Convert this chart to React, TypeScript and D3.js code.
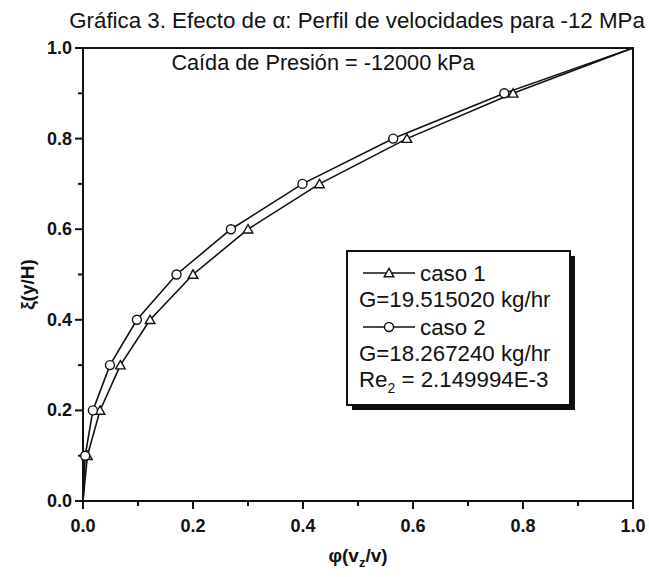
import React from "react";
import * as d3 from "d3";

// Dimensionless height ξ = y/H (shared by both cases)
const xi = [0, 0.1, 0.2, 0.3, 0.4, 0.5, 0.6, 0.7, 0.8, 0.9, 1.0];
// Dimensionless velocity φ = vz/v for each case
const caso1 = [0, 0.008, 0.031, 0.068, 0.122, 0.2, 0.3, 0.43, 0.589, 0.782, 1.0];
const caso2 = [0, 0.004, 0.018, 0.049, 0.098, 0.17, 0.269, 0.399, 0.564, 0.766, 1.0];

const majorTicks = [0, 0.2, 0.4, 0.6, 0.8, 1.0];
const minorTicks = [0.1, 0.3, 0.5, 0.7, 0.9];

const title = "Gráfica 3. Efecto de α: Perfil de velocidades para -12 MPa";
const subtitle = "Caída de Presión = -12000 kPa";
const legendG1 = "G=19.515020 kg/hr";
const legendG2 = "G=18.267240 kg/hr";

const W = 649;
const H = 577;
const m = { left: 83, right: 633, top: 48, bottom: 501 };
const FONT = "'Liberation Sans', Arial, Helvetica, sans-serif";

export default function App() {
  const x = d3.scaleLinear().domain([0, 1]).range([m.left, m.right]);
  const y = d3.scaleLinear().domain([0, 1]).range([m.bottom, m.top]);

  const line = d3
    .line<[number, number]>()
    .x((d) => x(d[0]))
    .y((d) => y(d[1]));

  const pts1: [number, number][] = caso1.map((v, i) => [v, xi[i]]);
  const pts2: [number, number][] = caso2.map((v, i) => [v, xi[i]]);

  const tri = d3.symbol().type(d3.symbolTriangle).size(40)() as string;

  const lx0 = 347, ly0 = 251, lx1 = 570, ly1 = 405;

  return (
    <svg width={W} height={H} style={{ display: "block", position: "absolute", left: 0, top: 0, background: "#fff" }}>
      <rect x={0} y={0} width={W} height={H} fill="#fff" />
      <text x={357} y={28} textAnchor="middle" fontFamily={FONT} fontSize={22.3} fill="#111">
        {title}
      </text>

      {/* frame */}
      <rect x={m.left} y={m.top} width={m.right - m.left} height={m.bottom - m.top} fill="none" stroke="#111" strokeWidth={2} />

      <text x={323} y={70} textAnchor="middle" fontFamily={FONT} fontSize={21.7} fill="#111">
        {subtitle}
      </text>

      {/* x axis ticks */}
      {majorTicks.map((t) => (
        <g key={"xm" + t}>
          <line x1={x(t)} x2={x(t)} y1={m.bottom} y2={m.bottom + 8} stroke="#111" strokeWidth={2} />
          <text x={x(t)} y={m.bottom + 31} textAnchor="middle" fontFamily={FONT} fontWeight="bold" fontSize={18} fill="#111">
            {d3.format(".1f")(t)}
          </text>
        </g>
      ))}
      {minorTicks.map((t) => (
        <line key={"xn" + t} x1={x(t)} x2={x(t)} y1={m.bottom} y2={m.bottom + 5} stroke="#111" strokeWidth={2} />
      ))}

      {/* y axis ticks */}
      {majorTicks.map((t) => (
        <g key={"ym" + t}>
          <line x1={m.left - 8} x2={m.left} y1={y(t)} y2={y(t)} stroke="#111" strokeWidth={2} />
          <text x={m.left - 11} y={y(t) + 6} textAnchor="end" fontFamily={FONT} fontWeight="bold" fontSize={18} fill="#111">
            {d3.format(".1f")(t)}
          </text>
        </g>
      ))}
      {minorTicks.map((t) => (
        <line key={"yn" + t} x1={m.left - 5} x2={m.left} y1={y(t)} y2={y(t)} stroke="#111" strokeWidth={2} />
      ))}

      {/* axis titles */}
      <text x={358} y={562} textAnchor="middle" fontFamily={FONT} fontWeight="bold" fontSize={19} fill="#111">
        φ(v<tspan fontSize={13} dy={5}>z</tspan><tspan dy={-5}>/v)</tspan>
      </text>
      <text transform={`translate(34,${(m.top + m.bottom) / 2 + 10}) rotate(-90)`} textAnchor="middle" fontFamily={FONT} fontWeight="bold" fontSize={19} fill="#111">
        ξ(y/H)
      </text>

      {/* series lines */}
      <path d={line(pts1) as string} fill="none" stroke="#111" strokeWidth={1.6} />
      <path d={line(pts2) as string} fill="none" stroke="#111" strokeWidth={1.6} />

      {/* markers */}
      {pts1.slice(1, -1).map((p, i) => (
        <path key={"t" + i} d={tri} transform={`translate(${x(p[0])},${y(p[1]) + 1})`} fill="#fff" stroke="#111" strokeWidth={1.4} />
      ))}
      {pts2.slice(1, -1).map((p, i) => (
        <circle key={"c" + i} cx={x(p[0])} cy={y(p[1])} r={4.5} fill="#fff" stroke="#111" strokeWidth={1.4} />
      ))}

      {/* legend */}
      <rect x={lx0 + 5} y={ly0 + 5} width={lx1 - lx0} height={ly1 - ly0} fill="#111" />
      <rect x={lx0} y={ly0} width={lx1 - lx0} height={ly1 - ly0} fill="#fff" stroke="#111" strokeWidth={2} />
      <line x1={363} x2={415} y1={273} y2={273} stroke="#111" strokeWidth={1.6} />
      <path d={tri} transform="translate(389,274)" fill="#fff" stroke="#111" strokeWidth={1.4} />
      <text x={420} y={281} fontFamily={FONT} fontSize={22.3} fill="#111">caso 1</text>
      <text x={359} y={307} fontFamily={FONT} fontSize={22.3} fill="#111">{legendG1}</text>
      <line x1={363} x2={415} y1={327} y2={327} stroke="#111" strokeWidth={1.6} />
      <circle cx={389} cy={327} r={4.5} fill="#fff" stroke="#111" strokeWidth={1.4} />
      <text x={420} y={335} fontFamily={FONT} fontSize={22.3} fill="#111">caso 2</text>
      <text x={359} y={361} fontFamily={FONT} fontSize={22.3} fill="#111">{legendG2}</text>
      <text x={359} y={387} fontFamily={FONT} fontSize={22.3} fill="#111">
        Re<tspan fontSize={14} dy={6}>2</tspan><tspan dy={-6}> = 2.149994E-3</tspan>
      </text>
    </svg>
  );
}
